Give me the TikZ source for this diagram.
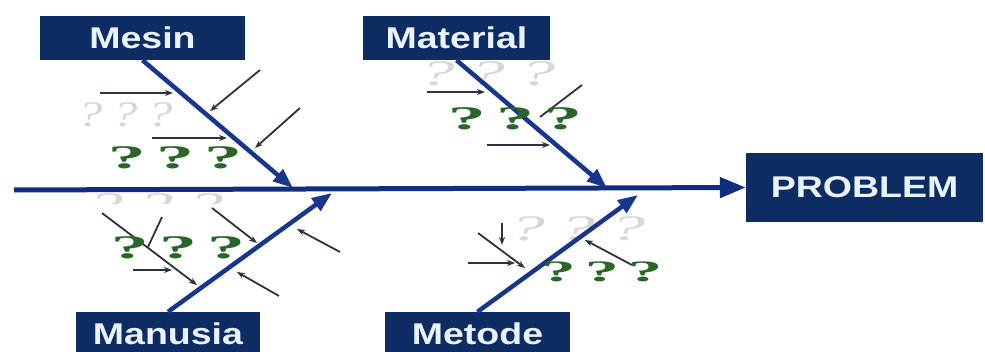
\documentclass[tikz,border=0pt]{standalone}
\usepackage{fontspec}
\setmainfont{Liberation Sans}
\newfontfamily\boxfont[FakeStretch=1.25]{Liberation Sans}
\newfontfamily\qfont[FakeStretch=2.3,WordSpace=0.2]{Liberation Serif}
\newfontfamily\fqfont[FakeStretch=2.0,WordSpace=0.45]{Liberation Serif}
\usetikzlibrary{arrows.meta}
\definecolor{navy}{RGB}{12,44,98}
\definecolor{bonec}{RGB}{24,54,142}
\definecolor{spinec}{RGB}{16,46,128}
\definecolor{qgreen}{RGB}{42,102,40}
\definecolor{qgray}{RGB}{215,215,215}
\definecolor{subc}{RGB}{45,50,60}
\definecolor{boxtext}{RGB}{234,242,255}
\begin{document}
\begin{tikzpicture}[x=1pt,y=-1pt,
  catbox/.style={fill=navy,text=boxtext,font=\boxfont\bfseries\fontsize{30}{30}\selectfont,inner sep=0pt,minimum height=44pt},
  bonearrow/.style={draw=bonec,line width=4.5pt,-{Triangle[length=20pt,width=15pt]}},
  spinearrow/.style={draw=spinec,line width=5pt,-{Triangle[length=26pt,width=20pt]}},
  subarrow/.style={draw=subc,line width=1.8pt,-{Stealth[length=8pt,width=6pt]}},
  subline/.style={draw=subc,line width=1.8pt},
  greenq/.style={text=qgreen,font=\qfont\bfseries\fontsize{33}{33}\selectfont,inner sep=0pt},
  faintq/.style={text=qgray,font=\fqfont\itshape\fontsize{36}{36}\selectfont,inner sep=0pt}
]
\useasboundingbox[fill=white] (0,0) rectangle (985,352);

% boxes
\node[catbox,minimum width=205pt] (mesin) at (142.5,38) {Mesin};
\node[catbox,minimum width=187pt] (material) at (456.5,38) {Material};
\node[catbox,minimum width=184pt] (manusia) at (168,334) {Manusia};
\node[catbox,minimum width=185pt] (metode) at (477.5,334) {Metode};
\node[catbox,minimum width=237pt,minimum height=69pt] (problem) at (864.5,187.5) {PROBLEM};

% faint question marks
\node[faintq] (f1) at (125,115) {\scalebox{0.7}[1]{? ? ?}};
\node[faintq] (f2) at (487,74) {? ? ?};
\begin{scope}
  \clip (80,193) rectangle (240,204);
  \node[faintq] (f3) at (155,206) {? ? ?};
\end{scope}
\node[faintq] (f4) at (577,229) {? ? ?};

% spine
\coordinate (tail) at (14,190);
\draw[spinearrow] (tail) -- (problem.west);

% bone end points
\coordinate (e1) at (293,188);
\coordinate (e2) at (607,188);
\coordinate (e3) at (332,193);
\coordinate (e4) at (638,195);
\draw[bonearrow] (mesin.south) -- (e1);
\draw[bonearrow] (material.south) -- (e2);
\draw[bonearrow] (manusia.north) -- (e3);
\draw[bonearrow] (metode.north) -- (e4);

% sub-cause arrows: Mesin
\coordinate (a1s) at (100,93);  \coordinate (a1e) at (173,93);
\coordinate (a2s) at (260,70);  \coordinate (a2e) at (210,111);
\coordinate (a3s) at (152,138); \coordinate (a3e) at (227,138);
\coordinate (a4s) at (300,108); \coordinate (a4e) at (255,148);
\draw[subarrow] (a1s) -- (a1e);
\draw[subarrow] (a2s) -- (a2e);
\draw[subarrow] (a3s) -- (a3e);
\draw[subarrow] (a4s) -- (a4e);

% Material
\coordinate (b1s) at (427,92);  \coordinate (b1e) at (485,92);
\coordinate (b2s) at (582,85);  \coordinate (b2e) at (540,117);
\coordinate (b3s) at (487,145); \coordinate (b3e) at (550,145);
\draw[subarrow] (b1s) -- (b1e);
\draw[subline] (b2s) -- (b2e);
\draw[subarrow] (b3s) -- (b3e);

% Manusia
\coordinate (c1s) at (102,213); \coordinate (c1e) at (197,285);
\coordinate (c2s) at (162,217); \coordinate (c2e) at (148,247);
\coordinate (c3s) at (133,270); \coordinate (c3e) at (172,270);
\coordinate (c4s) at (212,208); \coordinate (c4e) at (257,243);
\coordinate (c5s) at (279,296); \coordinate (c5e) at (237,272);
\coordinate (c6s) at (340,252); \coordinate (c6e) at (297,229);
\draw[subarrow] (c1s) -- (c1e);
\draw[subline] (c2s) -- (c2e);
\draw[subarrow] (c3s) -- (c3e);
\draw[subarrow] (c4s) -- (c4e);
\draw[subarrow] (c5s) -- (c5e);
\draw[subarrow] (c6s) -- (c6e);

% Metode
\coordinate (d1s) at (502,223); \coordinate (d1e) at (502,245);
\coordinate (d2s) at (478,233); \coordinate (d2e) at (525,268);
\coordinate (d3s) at (468,263); \coordinate (d3e) at (515,263);
\coordinate (d4s) at (632,265); \coordinate (d4e) at (585,240);
\draw[subarrow] (d1s) -- (d1e);
\draw[subarrow] (d2s) -- (d2e);
\draw[subarrow] (d3s) -- (d3e);
\draw[subarrow] (d4s) -- (d4e);

% green question marks
\node[greenq] (g1) at (175,158) {? ? ?};
\node[greenq] (g2) at (515,119) {? ? ?};
\node[greenq] (g3) at (178,248) {? ? ?};
\node[greenq,scale=0.9] (g4) at (602,272) {? ? ?};
\end{tikzpicture}
\end{document}
